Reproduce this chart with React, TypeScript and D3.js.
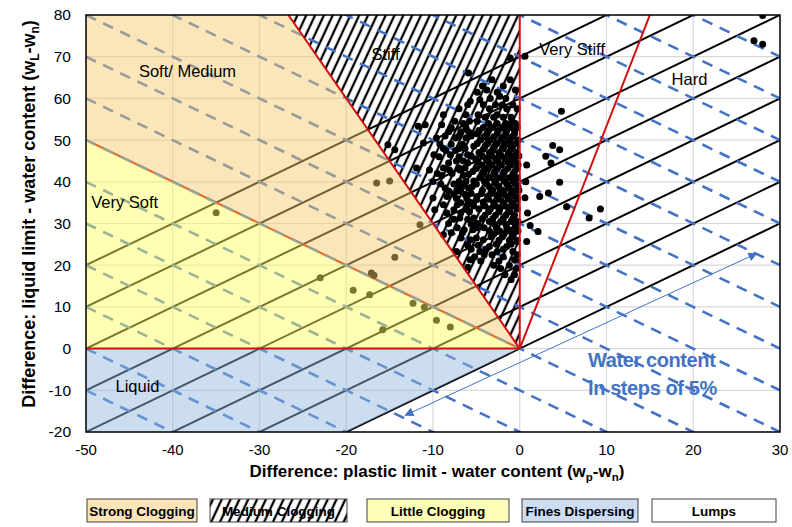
import * as d3 from 'd3'

// axis ticks
const xTicks = [-50, -40, -30, -20, -10, 0, 10, 20, 30]
const yTicks = [-20, -10, 0, 10, 20, 30, 40, 50, 60, 70, 80]

// solid lines of constant plasticity index: y = x + ip
const ipLines = [0, 10, 20, 30, 40, 50, 60, 70]
// dashed guide lines: y = -x + d
const guideLines = [-60, -50, -40, -30, -20, -10, 0, 10, 20, 30, 40, 50, 60, 70, 80, 90, 100]

// consistency zones (vertices in data units)
const zoneStrong = [[-50, 50], [0, 0], [-80 / 3, 80], [-50, 80]]
const zoneLittle = [[-50, 0], [0, 0], [-50, 50]]
const zoneFines = [[-50, 0], [0, 0], [-20, -20], [-50, -20]]
const zoneMedium = [[0, 0], [-80 / 3, 80], [0, 80]]

// red zone boundaries
const boundaryUnder = [[-50, 50], [0, 0]]
const boundaries = [
  [[-50, 0], [0, 0]],
  [[0, 0], [-80 / 3, 80]],
  [[0, 0], [0, 80]],
  [[0, 0], [15, 80]],
]

const zoneNames = ['Soft/ Medium', 'Very Soft', 'Stiff', 'Very Stiff', 'Hard', 'Liquid']
const zoneAnchors = [[-43.9, 66.6], [-49.4, 35], [-17.1, 70.5], [2.25, 71.9], [17.5, 64.6], [-46.6, -9.1]]

const legendNames = ['Strong Clogging', 'Medium Clogging', 'Little Clogging', 'Fines Dispersing', 'Lumps']

// measured samples [wp - wn, wL - wn]
const samples = [
  // soft / very soft
  [-35.0, 32.6], [-16.5, 39.7], [-15.0, 40.2], [-14.4, 21.9], [-11.5, 29.7], [-23.0, 17.0],
  [-19.2, 14.0], [-17.1, 18.1], [-16.8, 17.6], [-17.3, 12.9], [-12.3, 10.9], [-11.0, 9.9],
  [-9.6, 6.8], [-8.0, 5.2], [-15.8, 4.5],
  // very stiff / hard
  [0.6, 70.1], [4.8, 56.9], [3.8, 48.7], [4.6, 47.7], [3.0, 46.1], [3.6, 44.5], [4.6, 39.9],
  [3.3, 37.3], [2.3, 36.5], [2.1, 28.1], [0.8, 25.7], [8.0, 31.3], [9.3, 33.5], [5.4, 34.0],
  [0.8, 44.0], [0.7, 40.0], [0.9, 32.5], [0.6, 36.2], [1.2, 29.5], [28.0, 79.9], [27.0, 73.8], [28.0, 73.0],
  // stiff, outer part
  [-5.9, 66.1], [-1.1, 69.7], [-3.2, 64.5], [-1.1, 64.5], [-2.3, 60.5], [-4.6, 59.7], [-5.7, 59.3],
  [-0.5, 62.0], [-3.8, 62.0], [-7.0, 57.5], [-3.5, 57.5], [-1.5, 57.5], [-0.3, 57.5], [-8.8, 56.1],
  [-6.2, 56.1], [-4.8, 56.1], [-2.6, 56.1], [-7.5, 54.5], [-5.8, 54.5], [-4.9, 54.5], [-0.9, 54.5],
  [-10.9, 53.7], [-9.0, 53.7], [-11.7, 53.3], [-8.2, 52.0], [-6.8, 52.0], [-5.9, 52.0], [-9.6, 50.5],
  [-7.4, 50.5], [-6.2, 50.5], [-11.1, 49.3], [-15.2, 48.9], [-14.4, 47.7], [-8.8, 48.0], [-7.0, 48.0],
  [-6.3, 48.0], [-9.9, 46.5], [-8.0, 46.5], [-6.0, 46.5], [-7.3, 45.0], [-6.5, 45.0], [-11.9, 43.3],
  [-8.8, 43.3], [-7.0, 43.3], [-6.3, 43.3], [-9.5, 42.0], [-7.8, 42.0], [-10.0, 40.1], [-7.0, 40.1],
  [-6.2, 40.1], [-8.6, 38.5], [-6.9, 38.5], [-5.9, 38.5], [-7.6, 37.0], [-6.3, 37.0], [-10.0, 36.1],
  [-8.4, 36.5], [-6.8, 35.0], [-5.6, 35.0], [-9.8, 33.3], [-7.6, 33.3], [-6.1, 33.3], [-6.9, 31.3],
  [-5.3, 31.3], [-8.2, 30.0], [-4.8, 30.0], [-6.4, 28.5], [-5.4, 28.5], [-8.8, 27.3], [-5.7, 26.1],
  [-4.2, 26.1], [-1.5, 24.5], [-3.5, 24.5], [-0.35, 25.7], [-7.3, 23.3], [-4.6, 23.3], [-2.6, 23.3],
  [-0.8, 23.3], [-5.2, 22.0], [-1.9, 22.0], [-5.7, 21.3], [-0.6, 21.3], [-3.0, 20.0], [-1.2, 20.0],
  [-6.0, 19.5], [-1.7, 17.7], [-0.6, 17.7], [-1.0, 16.5],
  [-7.9, 53.0], [-6.2, 53.0], [-8.6, 51.0], [-7.0, 51.0], [-5.6, 51.0], [-9.2, 49.0], [-7.9, 49.0],
  [-6.6, 49.0], [-8.5, 47.5], [-7.4, 47.5], [-9.3, 46.0], [-7.0, 46.0], [-8.2, 44.5], [-6.0, 44.5],
  [-10.4, 42.8], [-8.1, 42.8], [-6.9, 42.8], [-9.0, 41.5], [-6.5, 41.5], [-9.1, 39.5], [-7.6, 39.5],
  [-6.5, 39.5], [-8.2, 37.8], [-7.1, 37.8], [-7.3, 36.0], [-6.1, 36.0], [-8.8, 34.5], [-7.2, 34.5],
  [-6.0, 34.5], [-8.4, 32.5], [-6.8, 32.5], [-7.6, 31.0], [-6.0, 31.0], [-7.2, 29.0], [-5.0, 29.0],
  [-7.9, 27.8], [-6.6, 27.8], [-6.8, 26.5], [-5.0, 26.5], [-6.0, 24.8], [-4.8, 24.8], [-5.6, 23.8],
  [-3.9, 23.8], [-1.9, 23.8], [-4.1, 22.5], [-3.2, 22.5], [-0.3, 22.5], [-4.5, 21.0], [-2.4, 21.0],
  [-2.2, 19.2], [-0.4, 19.2],
  [-4.0, 55.5], [-3.0, 55.5], [-1.9, 55.5], [-1.0, 55.5], [-6.5, 54.0], [-3.6, 54.0], [-2.6, 54.0],
  [-1.6, 54.0], [-0.5, 54.0], [-6.0, 58.5], [-4.2, 58.5], [-2.8, 58.5], [-2.0, 58.5], [-0.8, 58.5],
  [-3.4, 60.0], [-1.6, 60.0], [-4.9, 61.5], [-2.6, 61.5], [-1.9, 63.0], [-4.3, 63.0],
  // stiff, dense core
  [-4.2, 53.0], [-3.1, 53.0], [-2.0, 53.0], [-1.1, 53.0], [-0.3, 53.0],
  [-4.7, 52.3], [-3.6, 52.3], [-2.5, 52.3], [-1.5, 52.3], [-0.6, 52.3],
  [-5.0, 51.5], [-3.8, 51.5], [-2.6, 51.5], [-1.6, 51.5], [-0.6, 51.5],
  [-4.1, 50.8], [-3.0, 50.8], [-1.9, 50.8], [-0.9, 50.8],
  [-4.5, 50.0], [-3.4, 50.0], [-2.2, 50.0], [-1.2, 50.0], [-0.2, 50.0],
  [-4.9, 49.2], [-3.7, 49.2], [-2.6, 49.2], [-1.5, 49.2], [-0.4, 49.2],
  [-5.3, 48.5], [-4.0, 48.5], [-2.9, 48.5], [-1.8, 48.5], [-0.8, 48.5],
  [-4.2, 47.8], [-3.1, 47.8], [-2.0, 47.8], [-1.0, 47.8],
  [-4.7, 47.0], [-3.5, 47.0], [-2.4, 47.0], [-1.3, 47.0], [-0.4, 47.0],
  [-5.6, 46.2], [-4.3, 46.2], [-3.2, 46.2], [-2.1, 46.2], [-1.0, 46.2], [-0.1, 46.2],
  [-5.1, 45.5], [-3.9, 45.5], [-2.8, 45.5], [-1.7, 45.5], [-0.7, 45.5],
  [-4.8, 44.8], [-3.6, 44.8], [-2.5, 44.8], [-1.4, 44.8], [-0.5, 44.8],
  [-4.4, 44.0], [-3.2, 44.0], [-2.1, 44.0], [-1.0, 44.0], [-0.2, 44.0],
  [-5.0, 43.2], [-3.8, 43.2], [-2.6, 43.2], [-1.4, 43.2], [-0.3, 43.2],
  [-5.4, 42.5], [-4.1, 42.5], [-2.9, 42.5], [-1.8, 42.5], [-0.6, 42.5],
  [-5.9, 41.8], [-4.2, 41.8], [-3.0, 41.8], [-1.9, 41.8], [-0.8, 41.8],
  [-4.6, 41.0], [-3.5, 41.0], [-2.3, 41.0], [-1.2, 41.0], [-0.3, 41.0],
  [-5.3, 40.2], [-4.1, 40.2], [-2.9, 40.2], [-1.8, 40.2], [-0.7, 40.2],
  [-5.0, 39.5], [-3.8, 39.5], [-2.7, 39.5], [-1.5, 39.5], [-0.5, 39.5],
  [-5.5, 38.8], [-3.5, 38.8], [-2.4, 38.8], [-1.3, 38.8], [-0.2, 38.8],
  [-4.3, 38.0], [-3.1, 38.0], [-2.0, 38.0], [-0.9, 38.0], [-0.1, 38.0],
  [-5.6, 37.2], [-4.4, 37.2], [-3.2, 37.2], [-2.0, 37.2], [-1.0, 37.2],
  [-4.9, 36.5], [-3.7, 36.5], [-2.5, 36.5], [-1.4, 36.5], [-0.4, 36.5],
  [-5.0, 35.8], [-3.6, 35.8], [-2.4, 35.8], [-1.3, 35.8], [-0.3, 35.8],
  [-4.2, 35.0], [-3.0, 35.0], [-1.9, 35.0], [-0.8, 35.0],
  [-5.3, 34.2], [-4.0, 34.2], [-2.8, 34.2], [-1.7, 34.2], [-0.6, 34.2],
  [-4.7, 33.5], [-3.4, 33.5], [-2.3, 33.5], [-1.2, 33.5], [-0.3, 33.5],
  [-5.8, 32.8], [-3.6, 32.8], [-2.4, 32.8], [-1.1, 32.8],
  [-4.0, 32.0], [-2.8, 32.0], [-1.6, 32.0], [-0.6, 32.0],
  [-4.3, 31.2], [-3.1, 31.2], [-1.9, 31.2], [-0.8, 31.2],
  [-3.5, 30.5], [-2.2, 30.5], [-1.0, 30.5], [-0.2, 30.5],
  [-5.6, 29.8], [-2.9, 29.8], [-1.6, 29.8], [-0.5, 29.8],
  [-4.1, 29.0], [-2.7, 29.0], [-1.5, 29.0], [-0.5, 29.0],
  [-3.5, 28.2], [-2.3, 28.2], [-1.2, 28.2], [-0.2, 28.2],
  [-3.0, 27.5], [-1.8, 27.5], [-0.7, 27.5],
  [-3.3, 26.8], [-2.0, 26.8], [-0.9, 26.8],
  [-2.4, 26.0], [-1.2, 26.0], [-0.3, 26.0],
  [-2.7, 25.0], [-1.0, 25.0],
]

const W = 792
const H = 527
const FONT = "'Liberation Sans', Arial, sans-serif"
const NARROW = "'Liberation Sans Narrow', 'Liberation Sans', Arial, sans-serif"

export default function App() {
  const x = d3.scaleLinear().domain([-50, 30]).range([86, 780])
  const y = d3.scaleLinear().domain([-20, 80]).range([432, 15])
  const [x0, x1] = x.domain()
  const [y0, y1] = y.domain()

  const poly = (pts: number[][]) =>
    d3.line<number[]>().x((d) => x(d[0])).y((d) => y(d[1]))(pts) + 'Z'
  const seg = (pts: number[][]) => d3.line<number[]>().x((d) => x(d[0])).y((d) => y(d[1]))(pts)

  const legendBoxes = [
    [87, 197, '#fce4b9'],
    [210, 347, 'url(#hatch)'],
    [367, 509, '#ffffb9'],
    [522, 638, '#cddcf0'],
    [652, 776, '#ffffff'],
  ] as [number, number, string][]

  return (
    <div style={{ position: 'absolute', left: 0, top: 0 }}>
      <svg width={W} height={H} viewBox={`0 0 ${W} ${H}`} style={{ display: 'block', background: '#fff' }}>
        <defs>
          <clipPath id="plot">
            <rect x={x(x0)} y={y(y1)} width={x(x1) - x(x0)} height={y(y0) - y(y1)} />
          </clipPath>
          <pattern id="hatch" patternUnits="userSpaceOnUse" width={8} height={8} patternTransform="rotate(25)">
            <rect width={8} height={8} fill="#fff" />
            <line x1={4} y1={0} x2={4} y2={8} stroke="#000" strokeWidth={2.3} />
          </pattern>
          <marker id="arr" viewBox="0 0 10 10" refX={9} refY={5} markerWidth={11} markerHeight={9} orient="auto-start-reverse" markerUnits="userSpaceOnUse">
            <path d="M0,0 L10,5 L0,10 Z" fill="#4472c4" />
          </marker>
        </defs>

        <g clipPath="url(#plot)">
          <rect x={x(x0)} y={y(y1)} width={x(x1) - x(x0)} height={y(y0) - y(y1)} fill="#fff" />
          {xTicks.map((t) => (
            <line key={'gx' + t} x1={x(t)} x2={x(t)} y1={y(y0)} y2={y(y1)} stroke="#d9d9d9" strokeWidth={1.2} />
          ))}
          {yTicks.map((t) => (
            <line key={'gy' + t} x1={x(x0)} x2={x(x1)} y1={y(t)} y2={y(t)} stroke="#d9d9d9" strokeWidth={1.2} />
          ))}

          <path d={poly(zoneMedium)} fill="url(#hatch)" />

          {ipLines.map((c) => (
            <line key={'ip' + c} x1={x(x0)} y1={y(x0 + c)} x2={x(x1)} y2={y(x1 + c)} stroke="#000" strokeWidth={2} />
          ))}

          <path d={seg(boundaryUnder) || ''} stroke="#d01010" strokeWidth={2.2} fill="none" />

          {guideLines.map((d) => (
            <line key={'gl' + d} x1={x(x0)} y1={y(-x0 + d)} x2={x(x1)} y2={y(-x1 + d)}
              stroke="#4472c4" strokeWidth={2.6} strokeDasharray="11 8" />
          ))}

          {samples.map((p, i) => (
            <circle key={'s' + i} cx={x(p[0])} cy={y(p[1])} r={3.5} fill="#000" />
          ))}

          <path d={poly(zoneStrong)} fill="#f7c96a" fillOpacity={0.47} />
          <path d={poly(zoneLittle)} fill="#ffff5e" fillOpacity={0.47} />
          <path d={poly(zoneFines)} fill="#93b7df" fillOpacity={0.47} />

          {boundaries.map((b, i) => (
            <path key={'b' + i} d={seg(b) || ''} stroke="#d01010" strokeWidth={2} fill="none" />
          ))}
        </g>

        <rect x={x(x0)} y={y(y1)} width={x(x1) - x(x0)} height={y(y0) - y(y1)} fill="none" stroke="#000" strokeWidth={1.5} />

        {zoneNames.map((n, i) => (
          <text key={n} x={x(zoneAnchors[i][0])} y={y(zoneAnchors[i][1])} dy="0.35em"
            fontFamily={FONT} fontSize={16.5} fill="#000">{n}</text>
        ))}

        <line x1={x(-13.2)} y1={y(-16)} x2={x(27.3)} y2={y(22.8)} stroke="#4472c4" strokeWidth={1}
          markerStart="url(#arr)" markerEnd="url(#arr)" />
        <text x={588} y={367} fontFamily={FONT} fontSize={20} fontWeight="bold"
          fill="#4472c4" letterSpacing={-0.4}>Water content</text>
        <text x={588} y={395} fontFamily={FONT} fontSize={20} fontWeight="bold"
          fill="#4472c4" letterSpacing={-0.4}>in steps of 5%</text>

        {xTicks.map((t) => (
          <text key={'xt' + t} x={x(t)} y={455} textAnchor="middle" fontFamily={FONT} fontSize={15} fill="#000">{t}</text>
        ))}
        {yTicks.map((t) => (
          <text key={'yt' + t} x={71} y={y(t)} dy="0.35em" textAnchor="end" fontFamily={FONT} fontSize={15.5} fill="#000">{t}</text>
        ))}

        <text x={437} y={477} textAnchor="middle" fontFamily={FONT} fontSize={17} fontWeight="bold" fill="#000">
          Difference: plastic limit - water content (w<tspan fontSize={11.5} dy={4}>p</tspan><tspan dy={-4}>-w</tspan><tspan fontSize={11.5} dy={4}>n</tspan><tspan dy={-4}>)</tspan>
        </text>
        <text transform={`translate(35,214) rotate(-90)`} textAnchor="middle" fontFamily={FONT} fontSize={18} fontWeight="bold" fill="#000">
          Difference: liquid limit - water content (w<tspan fontSize={12} dy={4}>L</tspan><tspan dy={-4}>-w</tspan><tspan fontSize={12} dy={4}>n</tspan><tspan dy={-4}>)</tspan>
        </text>

        {legendBoxes.map(([a, b, f], i) => (
          <g key={'lg' + i}>
            <rect x={a} y={499} width={b - a} height={23} fill={f} stroke="#404040" strokeWidth={1} />
            <text x={(a + b) / 2} y={511} dy="0.35em" textAnchor="middle" fontFamily={NARROW} fontSize={13.5}
              fontWeight="bold" fill="#000">{legendNames[i]}</text>
          </g>
        ))}
      </svg>
    </div>
  )
}
